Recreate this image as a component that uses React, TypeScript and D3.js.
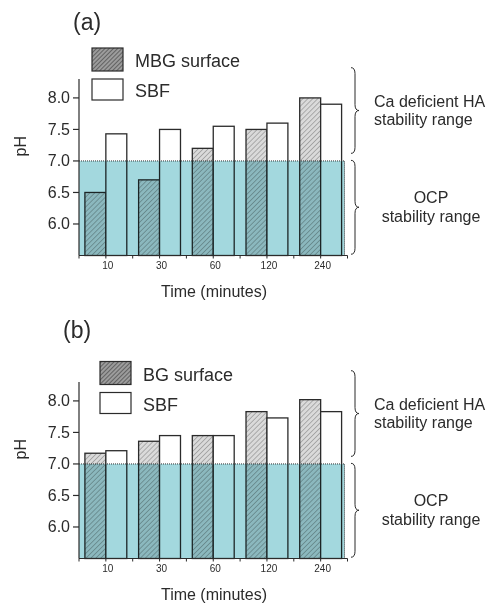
import React from "react";
import * as d3 from "d3";

const times = ["10", "30", "60", "120", "240"];
const mbgSurface = [6.5, 6.7, 7.2, 7.5, 8.0];
const mbgSbf = [7.43, 7.5, 7.55, 7.6, 7.9];
const bgSurface = [7.17, 7.36, 7.45, 7.83, 8.02];
const bgSbf = [7.21, 7.45, 7.45, 7.73, 7.83];
const phTicks = [6.0, 6.5, 7.0, 7.5, 8.0];

const FONT = "'Liberation Sans', Arial, sans-serif";
const INK = "#2b2b2b";
const CYAN = "#a3d8de";

const x = d3
  .scaleBand<string>()
  .domain(times)
  .range([79, 347.5])
  .paddingInner(0.22)
  .paddingOuter(0.11);

const brace = (x0: number, y0: number, y1: number) => {
  const ym = (y0 + y1) / 2;
  const xv = x0 + 4;
  return `M${x0},${y0} Q${xv},${y0} ${xv},${y0 + 6} L${xv},${ym - 6} Q${xv},${ym} ${x0 + 8},${ym} Q${xv},${ym} ${xv},${ym + 6} L${xv},${y1 - 6} Q${xv},${y1} ${x0},${y1}`;
};

type PanelProps = {
  id: string;
  label: string;
  labelX: number;
  labelY: number;
  top: number;
  surfaceName: string;
  surface: number[];
  sbf: number[];
  legX: number;
  legY: number;
};

const Panel = (p: PanelProps) => {
  const bottom = p.top + 176.5;
  const y = d3.scaleLinear().domain([5.5, 8.3]).range([bottom, p.top]);
  const bw = x.bandwidth() / 2;
  const xEnd = x.range()[1];
  const cyanRight = xEnd - 3;
  const bounds = times.map((t) => (x(t) as number) - (x.step() - x.bandwidth()) / 2);
  bounds.push(xEnd);
  return (
    <g>
      <text x={p.labelX} y={p.labelY} fontSize={23} fill={INK}>
        {p.label}
      </text>
      {/* bars */}
      {times.map((t, i) => (
        <g key={t}>
          <rect
            x={x(t)}
            y={y(p.surface[i])}
            width={bw}
            height={bottom - y(p.surface[i])}
            fill="url(#hatchBar)"
            stroke={INK}
            strokeWidth={1.3}
          />
          <rect
            x={(x(t) as number) + bw}
            y={y(p.sbf[i])}
            width={bw}
            height={bottom - y(p.sbf[i])}
            fill="#fff"
            stroke={INK}
            strokeWidth={1.3}
          />
        </g>
      ))}
      {/* OCP region */}
      <rect
        x={79}
        y={y(7.0)}
        width={cyanRight - 79}
        height={bottom - y(7.0)}
        fill={CYAN}
        style={{ mixBlendMode: "multiply" }}
      />
      <path
        d={`M79,${y(7.0)} H${cyanRight} V${bottom}`}
        fill="none"
        stroke="#333"
        strokeWidth={1}
        strokeDasharray="1,1"
      />
      {/* axes */}
      <line x1={79} x2={79} y1={p.top} y2={bottom} stroke={INK} strokeWidth={1.2} />
      <line x1={79} x2={xEnd} y1={bottom} y2={bottom} stroke={INK} strokeWidth={1.2} />
      {phTicks.map((v) => (
        <g key={v}>
          <line x1={73} x2={79} y1={y(v)} y2={y(v)} stroke={INK} strokeWidth={1.2} />
          <text x={70} y={y(v) + 5.5} fontSize={16} textAnchor="end" fill={INK}>
            {v.toFixed(1)}
          </text>
        </g>
      ))}
      {bounds.map((b, i) => (
        <line key={"b" + i} x1={b} x2={b} y1={bottom} y2={bottom + 3} stroke={INK} />
      ))}
      {times.map((t) => {
        const c = (x(t) as number) + bw;
        return (
          <g key={"t" + t}>
            <line x1={c} x2={c} y1={bottom} y2={bottom + 3} stroke={INK} />
            <text x={c + 2} y={bottom + 13.5} fontSize={10} textAnchor="middle" fill={INK}>
              {t}
            </text>
          </g>
        );
      })}
      <text
        transform={`translate(26,${(p.top + bottom) / 2 - 21}) rotate(-90)`}
        fontSize={16}
        textAnchor="middle"
        fill={INK}
      >
        pH
      </text>
      <text x={214} y={bottom + 41} fontSize={16} textAnchor="middle" fill={INK}>
        Time (minutes)
      </text>
      {/* legend */}
      <rect x={p.legX} y={p.legY} width={31} height={23} fill="url(#hatchLegend)" stroke={INK} strokeWidth={1.2} />
      <rect x={p.legX} y={p.legY + 31} width={31} height={21} fill="#fff" stroke={INK} strokeWidth={1.2} />
      <text x={p.legX + 43} y={p.legY + 19} fontSize={18} fill={INK}>
        {p.surfaceName}
      </text>
      <text x={p.legX + 43} y={p.legY + 49} fontSize={18} fill={INK}>
        SBF
      </text>
      {/* braces and annotations */}
      <path d={brace(351, y(8.48), y(7.12))} fill="none" stroke={INK} strokeWidth={1} />
      <path d={brace(351, y(7.01), y(5.52))} fill="none" stroke={INK} strokeWidth={1} />
      <text x={374} y={p.top + 28} fontSize={16} fill={INK}>
        Ca deficient HA
      </text>
      <text x={374} y={p.top + 46} fontSize={16} fill={INK}>
        stability range
      </text>
      <text x={431} y={p.top + 124} fontSize={16} textAnchor="middle" fill={INK}>
        OCP
      </text>
      <text x={431} y={p.top + 143} fontSize={16} textAnchor="middle" fill={INK}>
        stability range
      </text>
    </g>
  );
};

export default function App() {
  return (
    <svg width={488} height={606} style={{ position: "absolute", left: 0, top: 0, fontFamily: FONT, background: "#fff" }}>
      <defs>
        <pattern id="hatchBar" width={3.5} height={3.5} patternUnits="userSpaceOnUse" patternTransform="rotate(45)">
          <rect width={3.5} height={3.5} fill="#dadada" />
          <line x1={0} y1={0} x2={0} y2={3.5} stroke="#8a8a8a" strokeWidth={1.2} />
        </pattern>
        <pattern id="hatchLegend" width={3} height={3} patternUnits="userSpaceOnUse" patternTransform="rotate(45)">
          <rect width={3} height={3} fill="#9c9c9c" />
          <line x1={0} y1={0} x2={0} y2={3} stroke="#3a3a3a" strokeWidth={1.2} />
        </pattern>
      </defs>
      <rect width={488} height={606} fill="#fff" />
      <Panel
        id="a"
        label="(a)"
        labelX={73}
        labelY={30}
        top={79}
        surfaceName="MBG surface"
        surface={mbgSurface}
        sbf={mbgSbf}
        legX={92}
        legY={48}
      />
      <Panel
        id="b"
        label="(b)"
        labelX={63}
        labelY={338}
        top={382}
        surfaceName="BG surface"
        surface={bgSurface}
        sbf={bgSbf}
        legX={100}
        legY={361.5}
      />
    </svg>
  );
}
